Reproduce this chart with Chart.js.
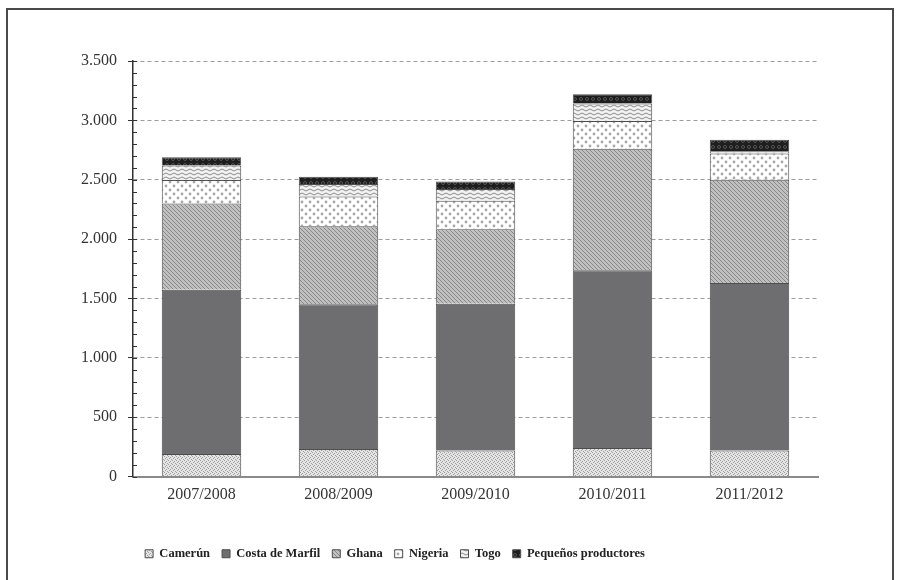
<!DOCTYPE html>
<html>
<head>
<meta charset="utf-8">
<script src="https://cdn.jsdelivr.net/npm/chart.js@4"></script>
<style>
  body { margin: 0; background: #fff; width: 902px; height: 580px; overflow: hidden; position: relative; }
  #frame { position: absolute; left: 6px; top: 8px; width: 888px; height: 600px; border: 2px solid #4a4a4a; box-sizing: border-box; }
  #chart { position: absolute; left: -28px; top: 0; }
</style>
</head>
<body>
<div id="frame"></div>
<canvas id="chart" width="902" height="580"></canvas>
<script>
const seasons = ["2007/2008", "2008/2009", "2009/2010", "2010/2011", "2011/2012"];
const camerun = [189, 231, 218, 240, 218];
const costaMarfil = [1385, 1221, 1237, 1497, 1412];
const ghana = [725, 656, 627, 1024, 870];
const nigeria = [198, 251, 240, 234, 220];
const togo = [122, 105, 99, 147, 20];
const pequenos = [70, 61, 65, 78, 96];
const yMax = 3500;
const yStep = 500;
const minorStep = 100;

const serif = '"Liberation Serif", "Times New Roman", serif';

function makePattern(w, h, draw) {
  const c = document.createElement("canvas");
  c.width = w;
  c.height = h;
  draw(c.getContext("2d"));
  return document.getElementById("chart").getContext("2d").createPattern(c, "repeat");
}

// stipple for Camerún
const patCamerun = makePattern(4, 4, (g) => {
  g.fillStyle = "#e4e4e4";
  g.fillRect(0, 0, 4, 4);
  g.fillStyle = "#a0a0a0";
  g.fillRect(0, 0, 1, 1);
  g.fillRect(2, 1, 1, 1);
  g.fillRect(1, 2, 1, 1);
  g.fillRect(3, 3, 1, 1);
});

// diagonal hatch for Ghana
const patGhana = makePattern(4, 4, (g) => {
  g.fillStyle = "#c0c0c0";
  g.fillRect(0, 0, 4, 4);
  g.fillStyle = "#888888";
  for (let i = 0; i < 4; i++) g.fillRect(i, i, 1, 1);
});

// circles for Nigeria
const patNigeria = makePattern(8, 8, (g) => {
  g.fillStyle = "#ffffff";
  g.fillRect(0, 0, 8, 8);
  g.fillStyle = "#a8a8a8";
  g.beginPath();
  g.arc(2, 2, 1.4, 0, Math.PI * 2);
  g.arc(6, 6, 1.4, 0, Math.PI * 2);
  g.fill();
});

// wavy lines for Togo
const patTogo = makePattern(8, 4, (g) => {
  g.fillStyle = "#f2f2f2";
  g.fillRect(0, 0, 8, 4);
  g.strokeStyle = "#8a8a8a";
  g.lineWidth = 1;
  g.beginPath();
  g.moveTo(0, 2);
  g.quadraticCurveTo(2, 0, 4, 2);
  g.quadraticCurveTo(6, 4, 8, 2);
  g.stroke();
});

// black with small rings for Pequeños productores
const patPeq = makePattern(6, 6, (g) => {
  g.fillStyle = "#1e1e1e";
  g.fillRect(0, 0, 6, 6);
  g.strokeStyle = "#555";
  g.beginPath();
  g.arc(3, 3, 1.5, 0, Math.PI * 2);
  g.stroke();
});

function ds(label, data, bg) {
  return {
    label: label,
    data: data,
    backgroundColor: bg,
    borderColor: "#4d4d4d",
    borderWidth: 1,
    barPercentage: 0.58,
    categoryPercentage: 1,
  };
}

const minorTicks = {
  id: "minorTicks",
  afterDraw(chart) {
    const y = chart.scales.y;
    const ctx = chart.ctx;
    ctx.save();
    ctx.strokeStyle = "#333";
    ctx.lineWidth = 1;
    for (let v = 0; v <= yMax; v += minorStep) {
      const py = Math.round(y.getPixelForValue(v)) + 0.5;
      ctx.beginPath();
      ctx.moveTo(y.right, py);
      ctx.lineTo(y.right + 4, py);
      ctx.stroke();
    }
    ctx.restore();
  },
};

new Chart(document.getElementById("chart"), {
  type: "bar",
  data: {
    labels: seasons,
    datasets: [
      ds("Camerún", camerun, patCamerun),
      ds("Costa de Marfil", costaMarfil, "#6e6e70"),
      ds("Ghana", ghana, patGhana),
      ds("Nigeria", nigeria, patNigeria),
      ds("Togo", togo, patTogo),
      ds("Pequeños productores", pequenos, patPeq),
    ],
  },
  options: {
    responsive: false,
    animation: false,
    layout: { padding: { top: 61, right: 56, bottom: 10, left: 0 } },
    plugins: {
      tooltip: { enabled: false },
      legend: {
        position: "bottom",
        labels: {
          boxWidth: 8,
          boxHeight: 8,
          padding: 12,
          color: "#222",
          font: { family: serif, size: 12.5, weight: "bold" },
        },
      },
    },
    scales: {
      x: {
        stacked: true,
        grid: { display: false, drawTicks: false },
        border: { color: "#8a8a8a", width: 2 },
        ticks: { color: "#333", padding: 9, font: { family: serif, size: 16 } },
        afterFit(scale) { scale.height = 59; },
      },
      y: {
        stacked: true,
        min: 0,
        max: yMax,
        ticks: {
          stepSize: yStep,
          color: "#333",
          padding: 11,
          font: { family: serif, size: 16 },
          callback: (v) => String(v).replace(/\B(?=(\d{3})+(?!\d))/g, "."),
        },
        grid: {
          color: (c) => (c.tick && c.tick.value === 0 ? "rgba(0,0,0,0)" : "#9c9c9c"),
          tickColor: "#333",
          tickLength: 5,
          lineWidth: 1,
        },
        border: { color: "#333", width: 1.5, dash: [4, 3] },
        afterFit(scale) { scale.width = 161; },
      },
    },
  },
  plugins: [minorTicks],
});
</script>
</body>
</html>
